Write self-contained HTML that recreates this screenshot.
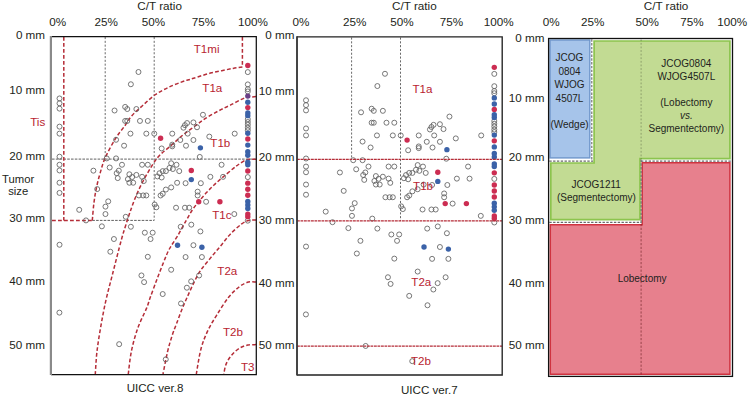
<!DOCTYPE html>
<html><head><meta charset="utf-8"><style>
html,body{margin:0;padding:0;background:#fff;width:748px;height:397px;overflow:hidden}
svg{display:block}
</style></head><body><svg width="748" height="397" viewBox="0 0 748 397" font-family='"Liberation Sans", sans-serif'><text x="159.6" y="9.9" font-size="11.7" text-anchor="middle" fill="#231f20" >C/T ratio</text>
<text x="57.6" y="26" font-size="11.7" text-anchor="middle" fill="#231f20" >0%</text>
<text x="106.3" y="26" font-size="11.7" text-anchor="middle" fill="#231f20" >25%</text>
<text x="153.5" y="26" font-size="11.7" text-anchor="middle" fill="#231f20" >50%</text>
<text x="203.5" y="26" font-size="11.7" text-anchor="middle" fill="#231f20" >75%</text>
<text x="253" y="26" font-size="11.7" text-anchor="middle" fill="#231f20" >100%</text>
<text x="414.4" y="9.9" font-size="11.7" text-anchor="middle" fill="#231f20" >C/T ratio</text>
<text x="300.9" y="26" font-size="11.7" text-anchor="middle" fill="#231f20" >0%</text>
<text x="354.6" y="26" font-size="11.7" text-anchor="middle" fill="#231f20" >25%</text>
<text x="401.9" y="26" font-size="11.7" text-anchor="middle" fill="#231f20" >50%</text>
<text x="451.5" y="26" font-size="11.7" text-anchor="middle" fill="#231f20" >75%</text>
<text x="498.6" y="26" font-size="11.7" text-anchor="middle" fill="#231f20" >100%</text>
<text x="666" y="9.9" font-size="11.7" text-anchor="middle" fill="#231f20" >C/T ratio</text>
<text x="551.1" y="26" font-size="11.7" text-anchor="middle" fill="#231f20" >0%</text>
<text x="592.7" y="26" font-size="11.7" text-anchor="middle" fill="#231f20" >25%</text>
<text x="647.2" y="26" font-size="11.7" text-anchor="middle" fill="#231f20" >50%</text>
<text x="692" y="26" font-size="11.7" text-anchor="middle" fill="#231f20" >75%</text>
<text x="732.1" y="26" font-size="11.7" text-anchor="middle" fill="#231f20" >100%</text>
<text x="45.1" y="38.7" font-size="11.7" text-anchor="end" fill="#231f20" >0 mm</text>
<text x="45.1" y="93.6" font-size="11.7" text-anchor="end" fill="#231f20" >10 mm</text>
<text x="45.1" y="159.7" font-size="11.7" text-anchor="end" fill="#231f20" >20 mm</text>
<text x="45.1" y="221.8" font-size="11.7" text-anchor="end" fill="#231f20" >30 mm</text>
<text x="45.1" y="284.8" font-size="11.7" text-anchor="end" fill="#231f20" >40 mm</text>
<text x="45.1" y="348.5" font-size="11.7" text-anchor="end" fill="#231f20" >50 mm</text>
<text x="18.2" y="183" font-size="11.3" text-anchor="middle" fill="#231f20" >Tumor</text>
<text x="18.2" y="194.6" font-size="11.3" text-anchor="middle" fill="#231f20" >size</text>
<text x="294.5" y="39" font-size="11.7" text-anchor="end" fill="#231f20" >0 mm</text>
<text x="294.5" y="94.7" font-size="11.7" text-anchor="end" fill="#231f20" >10 mm</text>
<text x="294.5" y="160.9" font-size="11.7" text-anchor="end" fill="#231f20" >20 mm</text>
<text x="294.5" y="223.5" font-size="11.7" text-anchor="end" fill="#231f20" >30 mm</text>
<text x="294.5" y="286.6" font-size="11.7" text-anchor="end" fill="#231f20" >40 mm</text>
<text x="294.5" y="348.9" font-size="11.7" text-anchor="end" fill="#231f20" >50 mm</text>
<text x="544.5" y="41.7" font-size="11.7" text-anchor="end" fill="#231f20" >0 mm</text>
<text x="544.5" y="102.3" font-size="11.7" text-anchor="end" fill="#231f20" >10 mm</text>
<text x="544.5" y="160.9" font-size="11.7" text-anchor="end" fill="#231f20" >20 mm</text>
<text x="544.5" y="223.5" font-size="11.7" text-anchor="end" fill="#231f20" >30 mm</text>
<text x="544.5" y="286.6" font-size="11.7" text-anchor="end" fill="#231f20" >40 mm</text>
<text x="544.5" y="349" font-size="11.7" text-anchor="end" fill="#231f20" >50 mm</text>
<text x="155" y="392" font-size="11.6" text-anchor="middle" fill="#231f20" >UICC ver.8</text>
<text x="429.3" y="393.6" font-size="11.6" text-anchor="middle" fill="#231f20" >UICC ver.7</text>
<line x1="105.2" y1="37" x2="105.2" y2="159" stroke="#6a6a6a" stroke-width="1" stroke-dasharray="2.1 1.7"/>
<line x1="154.2" y1="37" x2="154.2" y2="220.4" stroke="#6a6a6a" stroke-width="1" stroke-dasharray="2.1 1.7"/>
<line x1="52" y1="159.1" x2="255.5" y2="159.1" stroke="#606060" stroke-width="1" stroke-dasharray="2.6 1.2"/>
<line x1="92.3" y1="220.4" x2="154.2" y2="220.4" stroke="#606060" stroke-width="1" stroke-dasharray="2.6 1.2"/>
<path d="M63.8,37 L63.8,220.4" fill="none" stroke="#b52d38" stroke-width="1.5" stroke-dasharray="3.8 2.2" />
<path d="M52,220.4 L92.3,220.4" fill="none" stroke="#b52d38" stroke-width="1.5" stroke-dasharray="3.8 2.2" />
<path d="M242.4,37 L242.4,67" fill="none" stroke="#b52d38" stroke-width="1.5" stroke-dasharray="3.8 2.2" />
<path d="M242.40,67.00 C240.85,67.23 236.53,67.78 233.10,68.40 C229.67,69.02 225.58,69.92 221.80,70.70 C218.02,71.48 214.18,72.13 210.40,73.10 C206.62,74.07 202.50,75.45 199.10,76.50 C195.70,77.55 192.60,78.60 190.00,79.40 C187.40,80.20 187.10,79.97 183.50,81.30 C179.90,82.63 173.18,85.12 168.40,87.40 C163.62,89.68 159.08,91.98 154.80,95.00 C150.52,98.02 146.48,102.10 142.70,105.50 C138.92,108.90 134.98,112.15 132.10,115.40 C129.22,118.65 128.20,121.08 125.40,125.00 C122.60,128.92 118.67,133.43 115.30,138.90 C111.93,144.37 107.72,152.13 105.20,157.80 C102.68,163.47 101.67,167.87 100.20,172.90 C98.73,177.93 97.45,182.97 96.40,188.00 C95.35,193.03 94.58,197.70 93.90,203.10 C93.22,208.50 92.57,217.52 92.30,220.40" fill="none" stroke="#b52d38" stroke-width="1.5" stroke-dasharray="3.8 2.2" />
<path d="M256.00,96.50 C255.03,96.62 252.13,96.95 250.20,97.20 C248.27,97.45 247.72,96.68 244.40,98.00 C241.08,99.32 234.67,102.92 230.30,105.10 C225.93,107.28 222.40,108.85 218.20,111.10 C214.00,113.35 208.97,116.12 205.10,118.60 C201.23,121.08 198.40,123.50 195.00,126.00 C191.60,128.50 187.73,131.20 184.70,133.60 C181.67,136.00 179.63,137.93 176.80,140.40 C173.97,142.87 170.55,145.93 167.70,148.40 C164.85,150.87 162.17,152.57 159.70,155.20 C157.23,157.83 155.72,159.80 152.90,164.20 C150.08,168.60 145.75,175.97 142.80,181.60 C139.85,187.23 137.38,192.75 135.20,198.00 C133.02,203.25 131.30,208.48 129.70,213.10 C128.10,217.72 127.00,221.22 125.60,225.70 C124.20,230.18 123.52,231.78 121.30,240.00 C119.08,248.22 114.87,264.93 112.30,275.00 C109.73,285.07 107.80,291.92 105.90,300.40 C104.00,308.88 102.38,317.42 100.90,325.90 C99.42,334.38 97.93,343.28 97.00,351.30 C96.07,359.32 95.58,370.22 95.30,374.00" fill="none" stroke="#b52d38" stroke-width="1.5" stroke-dasharray="3.8 2.2" />
<path d="M256.00,159.20 C255.00,159.22 251.73,159.17 250.00,159.30 C248.27,159.43 247.52,159.13 245.60,160.00 C243.68,160.87 240.58,163.07 238.50,164.50 C236.42,165.93 235.70,166.50 233.10,168.60 C230.50,170.70 226.08,174.37 222.90,177.10 C219.72,179.83 216.73,182.42 214.00,185.00 C211.27,187.58 209.02,189.87 206.50,192.60 C203.98,195.33 201.22,198.57 198.90,201.40 C196.58,204.23 194.70,206.45 192.60,209.60 C190.50,212.75 188.82,215.90 186.30,220.30 C183.78,224.70 180.37,231.13 177.50,236.00 C174.63,240.87 171.45,245.05 169.10,249.50 C166.75,253.95 165.45,257.67 163.40,262.70 C161.35,267.73 159.00,273.88 156.80,279.70 C154.60,285.52 151.90,292.87 150.20,297.60 C148.50,302.33 148.68,302.97 146.60,308.10 C144.52,313.23 140.23,321.20 137.70,328.40 C135.17,335.60 132.97,343.70 131.40,351.30 C129.83,358.90 128.82,370.22 128.30,374.00" fill="none" stroke="#b52d38" stroke-width="1.5" stroke-dasharray="3.8 2.2" />
<path d="M256.00,220.10 C254.75,220.17 250.93,219.83 248.50,220.50 C246.07,221.17 244.43,221.82 241.40,224.10 C238.37,226.38 233.82,230.50 230.30,234.20 C226.78,237.90 223.65,242.27 220.30,246.30 C216.95,250.33 213.53,254.30 210.20,258.40 C206.87,262.50 203.13,266.62 200.30,270.90 C197.47,275.18 195.40,279.68 193.20,284.10 C191.00,288.52 189.00,293.13 187.10,297.40 C185.20,301.67 183.57,305.30 181.80,309.70 C180.03,314.10 178.10,319.52 176.50,323.80 C174.90,328.08 173.68,330.78 172.20,335.40 C170.72,340.02 169.13,345.07 167.60,351.50 C166.07,357.93 163.77,370.25 163.00,374.00" fill="none" stroke="#b52d38" stroke-width="1.5" stroke-dasharray="3.8 2.2" />
<path d="M256.00,282.00 C254.75,282.00 251.27,281.22 248.50,282.00 C245.73,282.78 242.75,284.12 239.40,286.70 C236.05,289.28 232.15,292.82 228.40,297.50 C224.65,302.18 220.35,309.23 216.90,314.80 C213.45,320.37 210.37,325.17 207.70,330.90 C205.03,336.63 202.80,342.02 200.90,349.20 C199.00,356.38 197.07,369.87 196.30,374.00" fill="none" stroke="#b52d38" stroke-width="1.5" stroke-dasharray="3.8 2.2" />
<path d="M256.00,344.60 C254.63,344.68 250.50,344.53 247.80,345.10 C245.10,345.67 242.47,346.37 239.80,348.00 C237.13,349.63 234.08,352.22 231.80,354.90 C229.52,357.58 227.43,360.92 226.10,364.10 C224.77,367.28 224.18,372.35 223.80,374.00" fill="none" stroke="#b52d38" stroke-width="1.5" stroke-dasharray="3.8 2.2" />
<circle cx="138.48" cy="71.99" r="2.5" fill="none" stroke="#606060" stroke-width="0.85"/>
<circle cx="130.86" cy="84.26" r="2.5" fill="none" stroke="#606060" stroke-width="0.85"/>
<circle cx="59.53" cy="98.45" r="2.5" fill="none" stroke="#606060" stroke-width="0.85"/>
<circle cx="59.53" cy="103.32" r="2.5" fill="none" stroke="#606060" stroke-width="0.85"/>
<circle cx="59.53" cy="108.61" r="2.5" fill="none" stroke="#606060" stroke-width="0.85"/>
<circle cx="114.56" cy="110.51" r="2.5" fill="none" stroke="#606060" stroke-width="0.85"/>
<circle cx="125.15" cy="106.91" r="2.5" fill="none" stroke="#606060" stroke-width="0.85"/>
<circle cx="127.27" cy="109.03" r="2.5" fill="none" stroke="#606060" stroke-width="0.85"/>
<circle cx="136.37" cy="109.03" r="2.5" fill="none" stroke="#606060" stroke-width="0.85"/>
<circle cx="202.94" cy="114.78" r="2.5" fill="none" stroke="#606060" stroke-width="0.85"/>
<circle cx="59.53" cy="126.64" r="2.5" fill="none" stroke="#606060" stroke-width="0.85"/>
<circle cx="59.53" cy="133.63" r="2.5" fill="none" stroke="#606060" stroke-width="0.85"/>
<circle cx="59.53" cy="156.7" r="2.5" fill="none" stroke="#606060" stroke-width="0.85"/>
<circle cx="59.53" cy="164.75" r="2.5" fill="none" stroke="#606060" stroke-width="0.85"/>
<circle cx="59.53" cy="170.46" r="2.5" fill="none" stroke="#606060" stroke-width="0.85"/>
<circle cx="59.53" cy="182.74" r="2.5" fill="none" stroke="#606060" stroke-width="0.85"/>
<circle cx="59.53" cy="192.9" r="2.5" fill="none" stroke="#606060" stroke-width="0.85"/>
<circle cx="125.15" cy="120.93" r="2.5" fill="none" stroke="#606060" stroke-width="0.85"/>
<circle cx="127.27" cy="120.93" r="2.5" fill="none" stroke="#606060" stroke-width="0.85"/>
<circle cx="139.97" cy="120.93" r="2.5" fill="none" stroke="#606060" stroke-width="0.85"/>
<circle cx="147.8" cy="120.93" r="2.5" fill="none" stroke="#606060" stroke-width="0.85"/>
<circle cx="130.44" cy="133.63" r="2.5" fill="none" stroke="#606060" stroke-width="0.85"/>
<circle cx="146.32" cy="133.63" r="2.5" fill="none" stroke="#606060" stroke-width="0.85"/>
<circle cx="116.05" cy="139.77" r="2.5" fill="none" stroke="#606060" stroke-width="0.85"/>
<circle cx="124.09" cy="145.69" r="2.5" fill="none" stroke="#606060" stroke-width="0.85"/>
<circle cx="106.73" cy="158.4" r="2.5" fill="none" stroke="#606060" stroke-width="0.85"/>
<circle cx="116.05" cy="158.4" r="2.5" fill="none" stroke="#606060" stroke-width="0.85"/>
<circle cx="121.97" cy="164.75" r="2.5" fill="none" stroke="#606060" stroke-width="0.85"/>
<circle cx="109.7" cy="167.5" r="2.5" fill="none" stroke="#606060" stroke-width="0.85"/>
<circle cx="93.4" cy="170.67" r="2.5" fill="none" stroke="#606060" stroke-width="0.85"/>
<circle cx="118.8" cy="170.67" r="2.5" fill="none" stroke="#606060" stroke-width="0.85"/>
<circle cx="116.68" cy="173.21" r="2.5" fill="none" stroke="#606060" stroke-width="0.85"/>
<circle cx="117.74" cy="178.08" r="2.5" fill="none" stroke="#606060" stroke-width="0.85"/>
<circle cx="129.38" cy="174.27" r="2.5" fill="none" stroke="#606060" stroke-width="0.85"/>
<circle cx="136.37" cy="174.91" r="2.5" fill="none" stroke="#606060" stroke-width="0.85"/>
<circle cx="132.13" cy="177.02" r="2.5" fill="none" stroke="#606060" stroke-width="0.85"/>
<circle cx="142.08" cy="176.81" r="2.5" fill="none" stroke="#606060" stroke-width="0.85"/>
<circle cx="127.9" cy="179.14" r="2.5" fill="none" stroke="#606060" stroke-width="0.85"/>
<circle cx="129.38" cy="182.74" r="2.5" fill="none" stroke="#606060" stroke-width="0.85"/>
<circle cx="133.19" cy="182.74" r="2.5" fill="none" stroke="#606060" stroke-width="0.85"/>
<circle cx="143.78" cy="181.05" r="2.5" fill="none" stroke="#606060" stroke-width="0.85"/>
<circle cx="142.08" cy="164.75" r="2.5" fill="none" stroke="#606060" stroke-width="0.85"/>
<circle cx="147.8" cy="164.75" r="2.5" fill="none" stroke="#606060" stroke-width="0.85"/>
<circle cx="97.21" cy="189.09" r="2.5" fill="none" stroke="#606060" stroke-width="0.85"/>
<circle cx="138.91" cy="195.44" r="2.5" fill="none" stroke="#606060" stroke-width="0.85"/>
<circle cx="143.14" cy="195.44" r="2.5" fill="none" stroke="#606060" stroke-width="0.85"/>
<circle cx="146.32" cy="195.44" r="2.5" fill="none" stroke="#606060" stroke-width="0.85"/>
<circle cx="187.06" cy="123.05" r="2.5" fill="none" stroke="#606060" stroke-width="0.85"/>
<circle cx="184.94" cy="125.17" r="2.5" fill="none" stroke="#606060" stroke-width="0.85"/>
<circle cx="193.41" cy="122.41" r="2.5" fill="none" stroke="#606060" stroke-width="0.85"/>
<circle cx="183.46" cy="127.71" r="2.5" fill="none" stroke="#606060" stroke-width="0.85"/>
<circle cx="197.01" cy="127.28" r="2.5" fill="none" stroke="#606060" stroke-width="0.85"/>
<circle cx="154.24" cy="133.64" r="2.5" fill="none" stroke="#606060" stroke-width="0.85"/>
<circle cx="172.24" cy="133.64" r="2.5" fill="none" stroke="#606060" stroke-width="0.85"/>
<circle cx="187.7" cy="133.64" r="2.5" fill="none" stroke="#606060" stroke-width="0.85"/>
<circle cx="180.28" cy="139.99" r="2.5" fill="none" stroke="#606060" stroke-width="0.85"/>
<circle cx="193.41" cy="139.99" r="2.5" fill="none" stroke="#606060" stroke-width="0.85"/>
<circle cx="172.24" cy="144.65" r="2.5" fill="none" stroke="#606060" stroke-width="0.85"/>
<circle cx="172.24" cy="146.34" r="2.5" fill="none" stroke="#606060" stroke-width="0.85"/>
<circle cx="186.0" cy="145.71" r="2.5" fill="none" stroke="#606060" stroke-width="0.85"/>
<circle cx="161.65" cy="148.46" r="2.5" fill="none" stroke="#606060" stroke-width="0.85"/>
<circle cx="209.3" cy="136.6" r="2.5" fill="none" stroke="#606060" stroke-width="0.85"/>
<circle cx="234.71" cy="133.64" r="2.5" fill="none" stroke="#606060" stroke-width="0.85"/>
<circle cx="199.77" cy="156.93" r="2.5" fill="none" stroke="#606060" stroke-width="0.85"/>
<circle cx="171.18" cy="163.28" r="2.5" fill="none" stroke="#606060" stroke-width="0.85"/>
<circle cx="176.47" cy="164.77" r="2.5" fill="none" stroke="#606060" stroke-width="0.85"/>
<circle cx="169.48" cy="167.94" r="2.5" fill="none" stroke="#606060" stroke-width="0.85"/>
<circle cx="172.87" cy="169.0" r="2.5" fill="none" stroke="#606060" stroke-width="0.85"/>
<circle cx="179.22" cy="171.12" r="2.5" fill="none" stroke="#606060" stroke-width="0.85"/>
<circle cx="162.71" cy="171.12" r="2.5" fill="none" stroke="#606060" stroke-width="0.85"/>
<circle cx="165.88" cy="171.12" r="2.5" fill="none" stroke="#606060" stroke-width="0.85"/>
<circle cx="159.53" cy="173.24" r="2.5" fill="none" stroke="#606060" stroke-width="0.85"/>
<circle cx="157.41" cy="176.41" r="2.5" fill="none" stroke="#606060" stroke-width="0.85"/>
<circle cx="161.65" cy="177.47" r="2.5" fill="none" stroke="#606060" stroke-width="0.85"/>
<circle cx="221.58" cy="164.77" r="2.5" fill="none" stroke="#606060" stroke-width="0.85"/>
<circle cx="210.36" cy="176.84" r="2.5" fill="none" stroke="#606060" stroke-width="0.85"/>
<circle cx="223.06" cy="176.84" r="2.5" fill="none" stroke="#606060" stroke-width="0.85"/>
<circle cx="177.11" cy="182.77" r="2.5" fill="none" stroke="#606060" stroke-width="0.85"/>
<circle cx="185.58" cy="183.19" r="2.5" fill="none" stroke="#606060" stroke-width="0.85"/>
<circle cx="200.83" cy="183.19" r="2.5" fill="none" stroke="#606060" stroke-width="0.85"/>
<circle cx="171.18" cy="187.43" r="2.5" fill="none" stroke="#606060" stroke-width="0.85"/>
<circle cx="165.88" cy="189.54" r="2.5" fill="none" stroke="#606060" stroke-width="0.85"/>
<circle cx="162.71" cy="193.78" r="2.5" fill="none" stroke="#606060" stroke-width="0.85"/>
<circle cx="160.59" cy="195.47" r="2.5" fill="none" stroke="#606060" stroke-width="0.85"/>
<circle cx="197.65" cy="191.66" r="2.5" fill="none" stroke="#606060" stroke-width="0.85"/>
<circle cx="197.65" cy="195.47" r="2.5" fill="none" stroke="#606060" stroke-width="0.85"/>
<circle cx="108.21" cy="201.35" r="2.5" fill="none" stroke="#606060" stroke-width="0.85"/>
<circle cx="105.46" cy="206.64" r="2.5" fill="none" stroke="#606060" stroke-width="0.85"/>
<circle cx="105.46" cy="214.05" r="2.5" fill="none" stroke="#606060" stroke-width="0.85"/>
<circle cx="79.21" cy="209.82" r="2.5" fill="none" stroke="#606060" stroke-width="0.85"/>
<circle cx="85.99" cy="220.4" r="2.5" fill="none" stroke="#606060" stroke-width="0.85"/>
<circle cx="101.86" cy="226.33" r="2.5" fill="none" stroke="#606060" stroke-width="0.85"/>
<circle cx="125.78" cy="216.8" r="2.5" fill="none" stroke="#606060" stroke-width="0.85"/>
<circle cx="130.86" cy="226.75" r="2.5" fill="none" stroke="#606060" stroke-width="0.85"/>
<circle cx="59.53" cy="244.75" r="2.5" fill="none" stroke="#606060" stroke-width="0.85"/>
<circle cx="113.93" cy="239.03" r="2.5" fill="none" stroke="#606060" stroke-width="0.85"/>
<circle cx="144.83" cy="232.68" r="2.5" fill="none" stroke="#606060" stroke-width="0.85"/>
<circle cx="152.67" cy="232.68" r="2.5" fill="none" stroke="#606060" stroke-width="0.85"/>
<circle cx="150.55" cy="239.03" r="2.5" fill="none" stroke="#606060" stroke-width="0.85"/>
<circle cx="110.33" cy="251.73" r="2.5" fill="none" stroke="#606060" stroke-width="0.85"/>
<circle cx="147.8" cy="256.81" r="2.5" fill="none" stroke="#606060" stroke-width="0.85"/>
<circle cx="141.45" cy="275.44" r="2.5" fill="none" stroke="#606060" stroke-width="0.85"/>
<circle cx="154.66" cy="204.53" r="2.5" fill="none" stroke="#606060" stroke-width="0.85"/>
<circle cx="156.35" cy="207.28" r="2.5" fill="none" stroke="#606060" stroke-width="0.85"/>
<circle cx="176.05" cy="207.71" r="2.5" fill="none" stroke="#606060" stroke-width="0.85"/>
<circle cx="184.94" cy="207.71" r="2.5" fill="none" stroke="#606060" stroke-width="0.85"/>
<circle cx="189.18" cy="207.71" r="2.5" fill="none" stroke="#606060" stroke-width="0.85"/>
<circle cx="206.12" cy="201.78" r="2.5" fill="none" stroke="#606060" stroke-width="0.85"/>
<circle cx="234.29" cy="214.06" r="2.5" fill="none" stroke="#606060" stroke-width="0.85"/>
<circle cx="191.3" cy="224.65" r="2.5" fill="none" stroke="#606060" stroke-width="0.85"/>
<circle cx="180.71" cy="226.77" r="2.5" fill="none" stroke="#606060" stroke-width="0.85"/>
<circle cx="200.4" cy="231.43" r="2.5" fill="none" stroke="#606060" stroke-width="0.85"/>
<circle cx="193.41" cy="245.19" r="2.5" fill="none" stroke="#606060" stroke-width="0.85"/>
<circle cx="185.58" cy="257.05" r="2.5" fill="none" stroke="#606060" stroke-width="0.85"/>
<circle cx="201.88" cy="257.05" r="2.5" fill="none" stroke="#606060" stroke-width="0.85"/>
<circle cx="171.18" cy="269.76" r="2.5" fill="none" stroke="#606060" stroke-width="0.85"/>
<circle cx="199.13" cy="275.47" r="2.5" fill="none" stroke="#606060" stroke-width="0.85"/>
<circle cx="59.41" cy="312.63" r="2.5" fill="none" stroke="#606060" stroke-width="0.85"/>
<circle cx="119.16" cy="344.16" r="2.5" fill="none" stroke="#606060" stroke-width="0.85"/>
<circle cx="144.08" cy="282.12" r="2.5" fill="none" stroke="#606060" stroke-width="0.85"/>
<circle cx="162.71" cy="294.06" r="2.5" fill="none" stroke="#606060" stroke-width="0.85"/>
<circle cx="186.85" cy="287.71" r="2.5" fill="none" stroke="#606060" stroke-width="0.85"/>
<circle cx="191.17" cy="281.35" r="2.5" fill="none" stroke="#606060" stroke-width="0.85"/>
<circle cx="181.0" cy="303.46" r="2.5" fill="none" stroke="#606060" stroke-width="0.85"/>
<circle cx="165.76" cy="359.37" r="2.5" fill="none" stroke="#606060" stroke-width="0.85"/>
<circle cx="247.8" cy="72.1" r="2.5" fill="none" stroke="#606060" stroke-width="0.85"/>
<circle cx="247.8" cy="84.4" r="2.5" fill="none" stroke="#606060" stroke-width="0.85"/>
<circle cx="247.8" cy="89.23" r="2.5" fill="none" stroke="#606060" stroke-width="0.85"/>
<circle cx="247.8" cy="91.45" r="2.5" fill="none" stroke="#606060" stroke-width="0.85"/>
<circle cx="247.8" cy="119.19" r="2.5" fill="none" stroke="#606060" stroke-width="0.85"/>
<circle cx="247.8" cy="122.02" r="2.5" fill="none" stroke="#606060" stroke-width="0.85"/>
<circle cx="247.8" cy="124.74" r="2.5" fill="none" stroke="#606060" stroke-width="0.85"/>
<circle cx="247.8" cy="127.76" r="2.5" fill="none" stroke="#606060" stroke-width="0.85"/>
<circle cx="247.8" cy="130.28" r="2.5" fill="none" stroke="#606060" stroke-width="0.85"/>
<circle cx="247.8" cy="177.1" r="2.5" fill="none" stroke="#606060" stroke-width="0.85"/>
<circle cx="247.8" cy="220.67" r="2.5" fill="none" stroke="#606060" stroke-width="0.85"/>
<circle cx="160.59" cy="138.3" r="2.7" fill="#cc2d52"/>
<circle cx="191.3" cy="170.48" r="2.7" fill="#cc2d52"/>
<circle cx="198.71" cy="201.78" r="2.7" fill="#cc2d52"/>
<circle cx="219.89" cy="201.78" r="2.7" fill="#cc2d52"/>
<circle cx="247.8" cy="65.54" r="2.7" fill="#cc2d52"/>
<circle cx="247.8" cy="107.6" r="2.7" fill="#cc2d52"/>
<circle cx="247.8" cy="139.07" r="2.7" fill="#cc2d52"/>
<circle cx="247.8" cy="171.05" r="2.7" fill="#cc2d52"/>
<circle cx="247.8" cy="183.15" r="2.7" fill="#cc2d52"/>
<circle cx="247.8" cy="189.19" r="2.7" fill="#cc2d52"/>
<circle cx="247.8" cy="195.24" r="2.7" fill="#cc2d52"/>
<circle cx="247.8" cy="214.11" r="2.7" fill="#cc2d52"/>
<circle cx="247.8" cy="216.63" r="2.7" fill="#cc2d52"/>
<circle cx="200.4" cy="147.83" r="2.7" fill="#3b62a8"/>
<circle cx="191.3" cy="179.59" r="2.7" fill="#3b62a8"/>
<circle cx="177.53" cy="245.19" r="2.7" fill="#3b62a8"/>
<circle cx="201.88" cy="247.31" r="2.7" fill="#3b62a8"/>
<circle cx="247.8" cy="102.26" r="2.7" fill="#3b62a8"/>
<circle cx="247.8" cy="112.94" r="2.7" fill="#3b62a8"/>
<circle cx="247.8" cy="115.67" r="2.7" fill="#3b62a8"/>
<circle cx="247.8" cy="133.31" r="2.7" fill="#3b62a8"/>
<circle cx="247.8" cy="145.12" r="2.7" fill="#3b62a8"/>
<circle cx="247.8" cy="151.67" r="2.7" fill="#3b62a8"/>
<circle cx="247.8" cy="155.2" r="2.7" fill="#3b62a8"/>
<circle cx="247.8" cy="162.26" r="2.7" fill="#3b62a8"/>
<circle cx="247.8" cy="164.78" r="2.7" fill="#3b62a8"/>
<circle cx="247.8" cy="201.49" r="2.7" fill="#3b62a8"/>
<circle cx="247.8" cy="205.04" r="2.7" fill="#3b62a8"/>
<circle cx="247.8" cy="208.57" r="2.7" fill="#3b62a8"/>
<circle cx="247.8" cy="96.09" r="2.7" fill="#6a3f86"/>
<text x="193.7" y="52.9" font-size="11.6" text-anchor="start" fill="#b82330" >T1mi</text>
<text x="202.3" y="91.8" font-size="11.6" text-anchor="start" fill="#b82330" >T1a</text>
<text x="210.3" y="147.2" font-size="11.6" text-anchor="start" fill="#b82330" >T1b</text>
<text x="212.2" y="218.8" font-size="11.6" text-anchor="start" fill="#b82330" >T1c</text>
<text x="217.3" y="274.7" font-size="11.6" text-anchor="start" fill="#b82330" >T2a</text>
<text x="223" y="335.8" font-size="11.6" text-anchor="start" fill="#b82330" >T2b</text>
<text x="241" y="371.2" font-size="11.6" text-anchor="start" fill="#b82330" >T3</text>
<text x="30.2" y="125.5" font-size="11.6" text-anchor="start" fill="#b82330" >Tis</text>
<line x1="351.6" y1="37.5" x2="351.6" y2="159.3" stroke="#6a6a6a" stroke-width="1" stroke-dasharray="2.1 1.7"/>
<line x1="400.5" y1="37.5" x2="400.5" y2="220.8" stroke="#6a6a6a" stroke-width="1" stroke-dasharray="2.1 1.7"/>
<circle cx="384.98" cy="73.79" r="2.5" fill="none" stroke="#606060" stroke-width="0.85"/>
<circle cx="377.36" cy="86.06" r="2.5" fill="none" stroke="#606060" stroke-width="0.85"/>
<circle cx="306.03" cy="100.25" r="2.5" fill="none" stroke="#606060" stroke-width="0.85"/>
<circle cx="306.03" cy="105.12" r="2.5" fill="none" stroke="#606060" stroke-width="0.85"/>
<circle cx="306.03" cy="110.41" r="2.5" fill="none" stroke="#606060" stroke-width="0.85"/>
<circle cx="361.06" cy="112.31" r="2.5" fill="none" stroke="#606060" stroke-width="0.85"/>
<circle cx="371.65" cy="108.71" r="2.5" fill="none" stroke="#606060" stroke-width="0.85"/>
<circle cx="373.77" cy="110.83" r="2.5" fill="none" stroke="#606060" stroke-width="0.85"/>
<circle cx="382.87" cy="110.83" r="2.5" fill="none" stroke="#606060" stroke-width="0.85"/>
<circle cx="449.44" cy="116.58" r="2.5" fill="none" stroke="#606060" stroke-width="0.85"/>
<circle cx="306.03" cy="128.44" r="2.5" fill="none" stroke="#606060" stroke-width="0.85"/>
<circle cx="306.03" cy="135.43" r="2.5" fill="none" stroke="#606060" stroke-width="0.85"/>
<circle cx="306.03" cy="158.50" r="2.5" fill="none" stroke="#606060" stroke-width="0.85"/>
<circle cx="306.03" cy="166.55" r="2.5" fill="none" stroke="#606060" stroke-width="0.85"/>
<circle cx="306.03" cy="172.26" r="2.5" fill="none" stroke="#606060" stroke-width="0.85"/>
<circle cx="306.03" cy="184.54" r="2.5" fill="none" stroke="#606060" stroke-width="0.85"/>
<circle cx="306.03" cy="194.70" r="2.5" fill="none" stroke="#606060" stroke-width="0.85"/>
<circle cx="371.65" cy="122.73" r="2.5" fill="none" stroke="#606060" stroke-width="0.85"/>
<circle cx="373.77" cy="122.73" r="2.5" fill="none" stroke="#606060" stroke-width="0.85"/>
<circle cx="386.47" cy="122.73" r="2.5" fill="none" stroke="#606060" stroke-width="0.85"/>
<circle cx="394.30" cy="122.73" r="2.5" fill="none" stroke="#606060" stroke-width="0.85"/>
<circle cx="376.94" cy="135.43" r="2.5" fill="none" stroke="#606060" stroke-width="0.85"/>
<circle cx="392.82" cy="135.43" r="2.5" fill="none" stroke="#606060" stroke-width="0.85"/>
<circle cx="362.55" cy="141.57" r="2.5" fill="none" stroke="#606060" stroke-width="0.85"/>
<circle cx="370.59" cy="147.49" r="2.5" fill="none" stroke="#606060" stroke-width="0.85"/>
<circle cx="353.23" cy="160.20" r="2.5" fill="none" stroke="#606060" stroke-width="0.85"/>
<circle cx="362.55" cy="160.20" r="2.5" fill="none" stroke="#606060" stroke-width="0.85"/>
<circle cx="368.47" cy="166.55" r="2.5" fill="none" stroke="#606060" stroke-width="0.85"/>
<circle cx="356.20" cy="169.30" r="2.5" fill="none" stroke="#606060" stroke-width="0.85"/>
<circle cx="339.90" cy="172.47" r="2.5" fill="none" stroke="#606060" stroke-width="0.85"/>
<circle cx="365.30" cy="172.47" r="2.5" fill="none" stroke="#606060" stroke-width="0.85"/>
<circle cx="363.18" cy="175.01" r="2.5" fill="none" stroke="#606060" stroke-width="0.85"/>
<circle cx="364.24" cy="179.88" r="2.5" fill="none" stroke="#606060" stroke-width="0.85"/>
<circle cx="375.88" cy="176.07" r="2.5" fill="none" stroke="#606060" stroke-width="0.85"/>
<circle cx="382.87" cy="176.71" r="2.5" fill="none" stroke="#606060" stroke-width="0.85"/>
<circle cx="378.63" cy="178.82" r="2.5" fill="none" stroke="#606060" stroke-width="0.85"/>
<circle cx="388.58" cy="178.61" r="2.5" fill="none" stroke="#606060" stroke-width="0.85"/>
<circle cx="374.40" cy="180.94" r="2.5" fill="none" stroke="#606060" stroke-width="0.85"/>
<circle cx="375.88" cy="184.54" r="2.5" fill="none" stroke="#606060" stroke-width="0.85"/>
<circle cx="379.69" cy="184.54" r="2.5" fill="none" stroke="#606060" stroke-width="0.85"/>
<circle cx="390.28" cy="182.85" r="2.5" fill="none" stroke="#606060" stroke-width="0.85"/>
<circle cx="388.58" cy="166.55" r="2.5" fill="none" stroke="#606060" stroke-width="0.85"/>
<circle cx="394.30" cy="166.55" r="2.5" fill="none" stroke="#606060" stroke-width="0.85"/>
<circle cx="343.71" cy="190.89" r="2.5" fill="none" stroke="#606060" stroke-width="0.85"/>
<circle cx="385.41" cy="197.24" r="2.5" fill="none" stroke="#606060" stroke-width="0.85"/>
<circle cx="389.64" cy="197.24" r="2.5" fill="none" stroke="#606060" stroke-width="0.85"/>
<circle cx="392.82" cy="197.24" r="2.5" fill="none" stroke="#606060" stroke-width="0.85"/>
<circle cx="433.56" cy="124.85" r="2.5" fill="none" stroke="#606060" stroke-width="0.85"/>
<circle cx="431.44" cy="126.97" r="2.5" fill="none" stroke="#606060" stroke-width="0.85"/>
<circle cx="439.91" cy="124.21" r="2.5" fill="none" stroke="#606060" stroke-width="0.85"/>
<circle cx="429.96" cy="129.51" r="2.5" fill="none" stroke="#606060" stroke-width="0.85"/>
<circle cx="443.51" cy="129.08" r="2.5" fill="none" stroke="#606060" stroke-width="0.85"/>
<circle cx="400.74" cy="135.44" r="2.5" fill="none" stroke="#606060" stroke-width="0.85"/>
<circle cx="418.74" cy="135.44" r="2.5" fill="none" stroke="#606060" stroke-width="0.85"/>
<circle cx="434.20" cy="135.44" r="2.5" fill="none" stroke="#606060" stroke-width="0.85"/>
<circle cx="426.78" cy="141.79" r="2.5" fill="none" stroke="#606060" stroke-width="0.85"/>
<circle cx="439.91" cy="141.79" r="2.5" fill="none" stroke="#606060" stroke-width="0.85"/>
<circle cx="418.74" cy="146.45" r="2.5" fill="none" stroke="#606060" stroke-width="0.85"/>
<circle cx="418.74" cy="148.14" r="2.5" fill="none" stroke="#606060" stroke-width="0.85"/>
<circle cx="432.50" cy="147.51" r="2.5" fill="none" stroke="#606060" stroke-width="0.85"/>
<circle cx="408.15" cy="150.26" r="2.5" fill="none" stroke="#606060" stroke-width="0.85"/>
<circle cx="455.80" cy="138.40" r="2.5" fill="none" stroke="#606060" stroke-width="0.85"/>
<circle cx="481.21" cy="135.44" r="2.5" fill="none" stroke="#606060" stroke-width="0.85"/>
<circle cx="446.27" cy="158.73" r="2.5" fill="none" stroke="#606060" stroke-width="0.85"/>
<circle cx="417.68" cy="165.08" r="2.5" fill="none" stroke="#606060" stroke-width="0.85"/>
<circle cx="422.97" cy="166.57" r="2.5" fill="none" stroke="#606060" stroke-width="0.85"/>
<circle cx="415.98" cy="169.74" r="2.5" fill="none" stroke="#606060" stroke-width="0.85"/>
<circle cx="419.37" cy="170.80" r="2.5" fill="none" stroke="#606060" stroke-width="0.85"/>
<circle cx="425.72" cy="172.92" r="2.5" fill="none" stroke="#606060" stroke-width="0.85"/>
<circle cx="409.21" cy="172.92" r="2.5" fill="none" stroke="#606060" stroke-width="0.85"/>
<circle cx="412.38" cy="172.92" r="2.5" fill="none" stroke="#606060" stroke-width="0.85"/>
<circle cx="406.03" cy="175.04" r="2.5" fill="none" stroke="#606060" stroke-width="0.85"/>
<circle cx="403.91" cy="178.21" r="2.5" fill="none" stroke="#606060" stroke-width="0.85"/>
<circle cx="408.15" cy="179.27" r="2.5" fill="none" stroke="#606060" stroke-width="0.85"/>
<circle cx="468.08" cy="166.57" r="2.5" fill="none" stroke="#606060" stroke-width="0.85"/>
<circle cx="456.86" cy="178.64" r="2.5" fill="none" stroke="#606060" stroke-width="0.85"/>
<circle cx="469.56" cy="178.64" r="2.5" fill="none" stroke="#606060" stroke-width="0.85"/>
<circle cx="423.61" cy="184.57" r="2.5" fill="none" stroke="#606060" stroke-width="0.85"/>
<circle cx="432.08" cy="184.99" r="2.5" fill="none" stroke="#606060" stroke-width="0.85"/>
<circle cx="447.33" cy="184.99" r="2.5" fill="none" stroke="#606060" stroke-width="0.85"/>
<circle cx="417.68" cy="189.23" r="2.5" fill="none" stroke="#606060" stroke-width="0.85"/>
<circle cx="412.38" cy="191.34" r="2.5" fill="none" stroke="#606060" stroke-width="0.85"/>
<circle cx="409.21" cy="195.58" r="2.5" fill="none" stroke="#606060" stroke-width="0.85"/>
<circle cx="407.09" cy="197.27" r="2.5" fill="none" stroke="#606060" stroke-width="0.85"/>
<circle cx="444.15" cy="193.46" r="2.5" fill="none" stroke="#606060" stroke-width="0.85"/>
<circle cx="444.15" cy="197.27" r="2.5" fill="none" stroke="#606060" stroke-width="0.85"/>
<circle cx="354.71" cy="203.15" r="2.5" fill="none" stroke="#606060" stroke-width="0.85"/>
<circle cx="351.96" cy="208.44" r="2.5" fill="none" stroke="#606060" stroke-width="0.85"/>
<circle cx="351.96" cy="215.85" r="2.5" fill="none" stroke="#606060" stroke-width="0.85"/>
<circle cx="325.71" cy="211.62" r="2.5" fill="none" stroke="#606060" stroke-width="0.85"/>
<circle cx="332.49" cy="222.20" r="2.5" fill="none" stroke="#606060" stroke-width="0.85"/>
<circle cx="348.36" cy="228.13" r="2.5" fill="none" stroke="#606060" stroke-width="0.85"/>
<circle cx="372.28" cy="218.60" r="2.5" fill="none" stroke="#606060" stroke-width="0.85"/>
<circle cx="377.36" cy="228.55" r="2.5" fill="none" stroke="#606060" stroke-width="0.85"/>
<circle cx="306.03" cy="246.55" r="2.5" fill="none" stroke="#606060" stroke-width="0.85"/>
<circle cx="360.43" cy="240.83" r="2.5" fill="none" stroke="#606060" stroke-width="0.85"/>
<circle cx="391.33" cy="234.48" r="2.5" fill="none" stroke="#606060" stroke-width="0.85"/>
<circle cx="399.17" cy="234.48" r="2.5" fill="none" stroke="#606060" stroke-width="0.85"/>
<circle cx="397.05" cy="240.83" r="2.5" fill="none" stroke="#606060" stroke-width="0.85"/>
<circle cx="356.83" cy="253.53" r="2.5" fill="none" stroke="#606060" stroke-width="0.85"/>
<circle cx="394.30" cy="258.61" r="2.5" fill="none" stroke="#606060" stroke-width="0.85"/>
<circle cx="387.95" cy="277.24" r="2.5" fill="none" stroke="#606060" stroke-width="0.85"/>
<circle cx="401.16" cy="206.33" r="2.5" fill="none" stroke="#606060" stroke-width="0.85"/>
<circle cx="402.85" cy="209.08" r="2.5" fill="none" stroke="#606060" stroke-width="0.85"/>
<circle cx="422.55" cy="209.51" r="2.5" fill="none" stroke="#606060" stroke-width="0.85"/>
<circle cx="431.44" cy="209.51" r="2.5" fill="none" stroke="#606060" stroke-width="0.85"/>
<circle cx="435.68" cy="209.51" r="2.5" fill="none" stroke="#606060" stroke-width="0.85"/>
<circle cx="452.62" cy="203.58" r="2.5" fill="none" stroke="#606060" stroke-width="0.85"/>
<circle cx="480.79" cy="215.86" r="2.5" fill="none" stroke="#606060" stroke-width="0.85"/>
<circle cx="437.80" cy="226.45" r="2.5" fill="none" stroke="#606060" stroke-width="0.85"/>
<circle cx="427.21" cy="228.57" r="2.5" fill="none" stroke="#606060" stroke-width="0.85"/>
<circle cx="446.90" cy="233.23" r="2.5" fill="none" stroke="#606060" stroke-width="0.85"/>
<circle cx="439.91" cy="246.99" r="2.5" fill="none" stroke="#606060" stroke-width="0.85"/>
<circle cx="432.08" cy="258.85" r="2.5" fill="none" stroke="#606060" stroke-width="0.85"/>
<circle cx="448.38" cy="258.85" r="2.5" fill="none" stroke="#606060" stroke-width="0.85"/>
<circle cx="417.68" cy="271.56" r="2.5" fill="none" stroke="#606060" stroke-width="0.85"/>
<circle cx="445.63" cy="277.27" r="2.5" fill="none" stroke="#606060" stroke-width="0.85"/>
<circle cx="305.91" cy="314.43" r="2.5" fill="none" stroke="#606060" stroke-width="0.85"/>
<circle cx="365.66" cy="345.96" r="2.5" fill="none" stroke="#606060" stroke-width="0.85"/>
<circle cx="390.58" cy="283.92" r="2.5" fill="none" stroke="#606060" stroke-width="0.85"/>
<circle cx="409.21" cy="295.86" r="2.5" fill="none" stroke="#606060" stroke-width="0.85"/>
<circle cx="433.35" cy="289.51" r="2.5" fill="none" stroke="#606060" stroke-width="0.85"/>
<circle cx="437.67" cy="283.15" r="2.5" fill="none" stroke="#606060" stroke-width="0.85"/>
<circle cx="427.50" cy="305.26" r="2.5" fill="none" stroke="#606060" stroke-width="0.85"/>
<circle cx="412.26" cy="361.17" r="2.5" fill="none" stroke="#606060" stroke-width="0.85"/>
<circle cx="494.30" cy="73.90" r="2.5" fill="none" stroke="#606060" stroke-width="0.85"/>
<circle cx="494.30" cy="86.20" r="2.5" fill="none" stroke="#606060" stroke-width="0.85"/>
<circle cx="494.30" cy="91.03" r="2.5" fill="none" stroke="#606060" stroke-width="0.85"/>
<circle cx="494.30" cy="93.25" r="2.5" fill="none" stroke="#606060" stroke-width="0.85"/>
<circle cx="494.30" cy="120.99" r="2.5" fill="none" stroke="#606060" stroke-width="0.85"/>
<circle cx="494.30" cy="123.82" r="2.5" fill="none" stroke="#606060" stroke-width="0.85"/>
<circle cx="494.30" cy="126.54" r="2.5" fill="none" stroke="#606060" stroke-width="0.85"/>
<circle cx="494.30" cy="129.56" r="2.5" fill="none" stroke="#606060" stroke-width="0.85"/>
<circle cx="494.30" cy="132.08" r="2.5" fill="none" stroke="#606060" stroke-width="0.85"/>
<circle cx="494.30" cy="178.90" r="2.5" fill="none" stroke="#606060" stroke-width="0.85"/>
<circle cx="494.30" cy="222.47" r="2.5" fill="none" stroke="#606060" stroke-width="0.85"/>
<circle cx="407.09" cy="140.10" r="2.7" fill="#cc2d52"/>
<circle cx="437.80" cy="172.28" r="2.7" fill="#cc2d52"/>
<circle cx="445.21" cy="203.58" r="2.7" fill="#cc2d52"/>
<circle cx="466.39" cy="203.58" r="2.7" fill="#cc2d52"/>
<circle cx="494.30" cy="67.34" r="2.7" fill="#cc2d52"/>
<circle cx="494.30" cy="109.40" r="2.7" fill="#cc2d52"/>
<circle cx="494.30" cy="140.87" r="2.7" fill="#cc2d52"/>
<circle cx="494.30" cy="172.85" r="2.7" fill="#cc2d52"/>
<circle cx="494.30" cy="184.95" r="2.7" fill="#cc2d52"/>
<circle cx="494.30" cy="190.99" r="2.7" fill="#cc2d52"/>
<circle cx="494.30" cy="197.04" r="2.7" fill="#cc2d52"/>
<circle cx="494.30" cy="215.91" r="2.7" fill="#cc2d52"/>
<circle cx="494.30" cy="218.43" r="2.7" fill="#cc2d52"/>
<circle cx="446.90" cy="149.63" r="2.7" fill="#3b62a8"/>
<circle cx="437.80" cy="181.39" r="2.7" fill="#3b62a8"/>
<circle cx="424.03" cy="246.99" r="2.7" fill="#3b62a8"/>
<circle cx="448.38" cy="249.11" r="2.7" fill="#3b62a8"/>
<circle cx="494.30" cy="104.06" r="2.7" fill="#3b62a8"/>
<circle cx="494.30" cy="114.74" r="2.7" fill="#3b62a8"/>
<circle cx="494.30" cy="117.47" r="2.7" fill="#3b62a8"/>
<circle cx="494.30" cy="135.11" r="2.7" fill="#3b62a8"/>
<circle cx="494.30" cy="146.92" r="2.7" fill="#3b62a8"/>
<circle cx="494.30" cy="153.47" r="2.7" fill="#3b62a8"/>
<circle cx="494.30" cy="157.00" r="2.7" fill="#3b62a8"/>
<circle cx="494.30" cy="164.06" r="2.7" fill="#3b62a8"/>
<circle cx="494.30" cy="166.58" r="2.7" fill="#3b62a8"/>
<circle cx="494.30" cy="203.29" r="2.7" fill="#3b62a8"/>
<circle cx="494.30" cy="206.84" r="2.7" fill="#3b62a8"/>
<circle cx="494.30" cy="210.37" r="2.7" fill="#3b62a8"/>
<circle cx="494.30" cy="97.89" r="2.7" fill="#3b62a8"/>
<line x1="297" y1="159.3" x2="502" y2="159.3" stroke="#b52d38" stroke-width="1.25" stroke-dasharray="2.8 0.7"/>
<line x1="297" y1="220.8" x2="502" y2="220.8" stroke="#b52d38" stroke-width="1.25" stroke-dasharray="2.8 0.7"/>
<line x1="297" y1="346" x2="502" y2="346" stroke="#b52d38" stroke-width="1.25" stroke-dasharray="2.8 0.7"/>
<text x="412.5" y="92.7" font-size="11.6" text-anchor="start" fill="#b82330" >T1a</text>
<text x="413.1" y="190.4" font-size="11.6" text-anchor="start" fill="#b82330" >T1b</text>
<text x="411.3" y="285.8" font-size="11.6" text-anchor="start" fill="#b82330" >T2a</text>
<text x="411" y="365.3" font-size="11.6" text-anchor="start" fill="#b82330" >T2b</text>
<rect x="550" y="40" width="39.8" height="117.9" fill="#a6c4ea" stroke="#6f96cb" stroke-width="1.4"/>
<path d="M594.1,41 H729.9 V158.6 H640 V219.6 H550.8 V163 H594.1 Z" fill="#c2db93" stroke="#8cc44e" stroke-width="1.7"/>
<path d="M642.2,162.7 H729.9 V374.2 H550.3 V224.8 H642.2 Z" fill="#e7808d" stroke="#cf3340" stroke-width="1.5"/>
<line x1="591.8" y1="39.3" x2="591.8" y2="161.2" stroke="#6a6a6a" stroke-width="1.1" stroke-dasharray="2.4 1.4"/>
<line x1="549.3" y1="161.1" x2="593" y2="161.1" stroke="#6a6a6a" stroke-width="1.1" stroke-dasharray="2.4 1.4"/>
<line x1="641" y1="161.1" x2="731.8" y2="161.1" stroke="#6a6a6a" stroke-width="1.1" stroke-dasharray="2.4 1.4"/>
<line x1="549.3" y1="222.4" x2="641.5" y2="222.4" stroke="#6a6a6a" stroke-width="1.1" stroke-dasharray="2.4 1.4"/>
<line x1="641.1" y1="159.5" x2="641.1" y2="224" stroke="#6a6a6a" stroke-width="1.1" stroke-dasharray="2.4 1.4"/>
<line x1="641.1" y1="39.3" x2="641.1" y2="159" stroke="#000" stroke-opacity="0.4" stroke-width="0.7" stroke-dasharray="1.8 1.8"/>
<line x1="641.1" y1="224" x2="641.1" y2="375" stroke="#400" stroke-opacity="0.6" stroke-width="0.8" stroke-dasharray="2.2 1.6"/>
<text x="569.5" y="61.4" font-size="10" text-anchor="middle" fill="#231f20" >JCOG</text>
<text x="569.5" y="74.8" font-size="10" text-anchor="middle" fill="#231f20" >0804</text>
<text x="569.5" y="88.3" font-size="10" text-anchor="middle" fill="#231f20" >WJOG</text>
<text x="569.5" y="101.7" font-size="10" text-anchor="middle" fill="#231f20" >4507L</text>
<text x="569.5" y="128" font-size="10" text-anchor="middle" fill="#231f20" >(Wedge)</text>
<text x="686.3" y="66.5" font-size="10" text-anchor="middle" fill="#231f20" >JCOG0804</text>
<text x="686.3" y="79.8" font-size="10" text-anchor="middle" fill="#231f20" >WJOG4507L</text>
<text x="686.3" y="105.6" font-size="10" text-anchor="middle" fill="#231f20" >(Lobectomy</text>
<text x="686.3" y="119.3" font-size="10" text-anchor="middle" fill="#231f20" font-style="italic">vs.</text>
<text x="686.3" y="131.9" font-size="10" text-anchor="middle" fill="#231f20" >Segmentectomy)</text>
<text x="596.2" y="187.9" font-size="10" text-anchor="middle" fill="#231f20" >JCOG1211</text>
<text x="596.4" y="201.2" font-size="10" text-anchor="middle" fill="#231f20" >(Segmentectomy)</text>
<text x="642.1" y="281.7" font-size="10" text-anchor="middle" fill="#231f20" >Lobectomy</text>
<path d="M50.9,36.5 H256.3 V374.5 H50.9" fill="none" stroke="#111" stroke-width="1.25"/>
<line x1="50.9" y1="35.9" x2="50.9" y2="375.1" stroke="#8a8a8a" stroke-width="2.2"/>
<path d="M297,36.9 H502.2 V375 H297" fill="none" stroke="#222" stroke-width="1.35"/>
<line x1="297" y1="36.3" x2="297" y2="375.6" stroke="#3c3c3c" stroke-width="1.9"/>
<rect x="548.6" y="38.5" width="183.9" height="337.9" fill="none" stroke="#111" stroke-width="1.3"/></svg></body></html>
